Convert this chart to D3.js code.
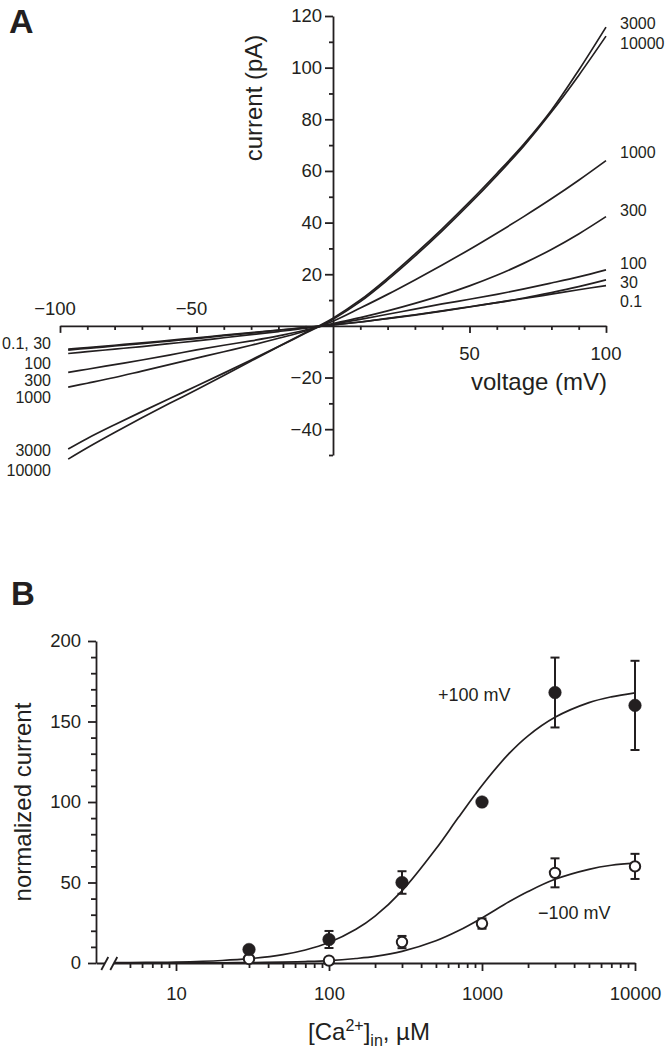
<!DOCTYPE html>
<html>
<head>
<meta charset="utf-8">
<script src="https://cdn.jsdelivr.net/npm/d3@7"></script>
<style>
  html, body { margin: 0; padding: 0; background: #fff; }
  svg { display: block; }
  text { font-family: "Liberation Sans", Arial, Helvetica, sans-serif; fill: #231f20; }
</style>
</head>
<body>
<svg id="chart" width="666" height="1057"></svg>
<script>
// ---------- Panel A data: I-V traces for different [Ca2+]in (µM) ----------
const voltage = [-97,-90,-80,-70,-60,-50,-40,-30,-20,-10,0,10,20,30,40,50,60,70,80,90,100];
const cur_0_1   = [-9.0,-8.4,-7.5,-6.6,-5.6,-4.6,-3.6,-2.6,-1.6,-0.6,0.4,1.5,2.9,4.3,5.8,7.4,9.0,10.6,12.3,14.0,15.6];
const cur_30    = [-9.4,-8.7,-7.8,-6.9,-5.9,-4.9,-3.8,-2.8,-1.7,-0.7,0.4,1.5,2.8,4.2,5.7,7.3,9.0,10.8,12.9,15.2,17.8];
const cur_100   = [-10.7,-10.0,-9.0,-8.0,-6.9,-5.8,-4.6,-3.4,-2.2,-0.9,0.7,2.5,4.5,6.5,8.5,10.3,12.2,14.3,16.6,19.0,21.7];
const cur_300   = [-18.0,-16.8,-15.0,-13.2,-11.3,-9.3,-7.5,-5.8,-3.9,-1.6,0.9,3.2,5.8,8.7,11.9,15.5,19.6,24.3,29.6,35.6,42.3];
const cur_1000  = [-23.7,-22.2,-20.0,-17.5,-15.0,-12.5,-10.0,-7.5,-4.8,-2.0,1.8,6.9,12.2,17.8,23.6,29.6,35.9,42.4,49.2,56.4,64.0];
const cur_3000  = [-47.7,-43.6,-38.3,-33.2,-28.2,-23.3,-18.3,-13.2,-8.0,-2.6,3.0,10.0,18.5,27.8,37.6,48.0,59.0,70.5,83.5,99.0,115.7];
const cur_10000 = [-51.6,-47.2,-41.3,-35.6,-30.1,-24.7,-19.2,-13.6,-8.1,-2.8,2.6,9.4,17.8,27.0,36.8,47.2,58.2,69.8,82.8,97.0,112.2];
const traces = [cur_0_1, cur_30, cur_100, cur_300, cur_1000, cur_3000, cur_10000];

const rightLabels = ["3000","10000","1000","300","100","30","0.1"];
const rightLabelY = [23, 43, 152, 210, 263, 282, 301];
const leftLabels  = ["0.1, 30","100","300","1000","3000","10000"];
const leftLabelY  = [343, 363, 380, 397, 450, 470];

const xTicksA = [-100,-50,50,100];
const yTicksA = [-40,-20,20,40,60,80,100,120];

// ---------- Panel B data: normalized current vs [Ca2+]in ----------
const conc      = [30, 100, 300, 1000, 3000, 10000];
const plus100   = [8.4, 14.6, 50, 100, 168, 160];
const plus100E  = [0, 5.3, 7, 0, 21.7, 27.7];
const minus100  = [2.5, 1.5, 13, 24.5, 56, 60];
const minus100E = [0, 0, 3.8, 3.2, 9, 7.8];

const fitConc  = [4,5,7,10,20,30,50,70,100,150,200,300,500,700,1000,1500,2000,3000,5000,7000,10000];
const fitPlus  = [0.18,0.24,0.38,0.61,1.55,2.66,5.23,8.09,12.7,20.9,29.1,44.8,70.9,90.3,110.3,130,141.1,152.6,161.7,165.3,167.8];
const fitMinus = [0,0.02,0.03,0.06,0.15,0.26,0.55,0.9,1.5,2.8,4.1,7.2,13.8,20,28,38,44.4,52,58.2,60.7,62];

const xTicksB = [10, 100, 1000, 10000];
const yTicksB = [0, 50, 100, 150, 200];

const ink = "#231f20";
const svg = d3.select("#chart");
const minus = s => String(s).replace("-", "\u2212");
const AXW = 1.8;

// ================= Panel A =================
const xA = d3.scaleLinear().domain([-100, 100]).range([60, 606]);
const yA = d3.scaleLinear().domain([-50, 120]).range([455, 16]);

svg.append("text").attr("x", 9).attr("y", 33)
  .style("font-size", "34px").style("font-weight", "bold").text("A");

// x axis (at current = 0)
const gxA = svg.append("g").attr("transform", `translate(0,${yA(0)})`);
gxA.call(d3.axisBottom(xA).tickValues(d3.range(-90, 100, 10).filter(v => v % 50 !== 0))
  .tickSize(4).tickSizeOuter(0).tickFormat(""));
gxA.append("g").call(d3.axisBottom(xA).tickValues(xTicksA).tickSize(7).tickSizeOuter(0).tickFormat(""))
  .select(".domain").remove();
gxA.selectAll("path,line").attr("stroke", ink).attr("stroke-width", AXW);

xTicksA.forEach(v => {
  svg.append("text")
    .attr("x", xA(v) + (v < 0 ? -5 : 0))
    .attr("y", v < 0 ? 315 : 360)
    .attr("text-anchor", "middle")
    .style("font-size", "18.5px")
    .text(minus(v));
});

// y axis (at voltage = 0)
const gyA = svg.append("g").attr("transform", `translate(${xA(0)},0)`);
gyA.call(d3.axisLeft(yA).tickValues(d3.range(-50, 120, 10).filter(v => v % 20 !== 0))
  .tickSize(4).tickSizeOuter(0).tickFormat(""));
gyA.append("g").call(d3.axisLeft(yA).tickValues(yTicksA).tickSize(8).tickPadding(3).tickSizeOuter(0).tickFormat(minus))
  .select(".domain").remove();
gyA.selectAll("path,line").attr("stroke", ink).attr("stroke-width", AXW);
gyA.selectAll("text").attr("fill", ink)
  .style("font-size", "18.5px").style("font-family", "'Liberation Sans', Arial, sans-serif");

svg.append("text")
  .attr("transform", `translate(262,98) rotate(-90)`)
  .attr("text-anchor", "middle").style("font-size", "24px").text("current (pA)");
svg.append("text")
  .attr("x", 607).attr("y", 390).attr("text-anchor", "end")
  .style("font-size", "24px").text("voltage (mV)");

const lineA = d3.line()
  .x((d, i) => xA(voltage[i]))
  .y(d => yA(d))
  .curve(d3.curveCatmullRom.alpha(0.5));

svg.append("g").selectAll("path").data(traces).join("path")
  .attr("d", lineA)
  .attr("fill", "none").attr("stroke", ink).attr("stroke-width", 1.7);

rightLabels.forEach((t, i) => {
  svg.append("text").attr("x", 620).attr("y", rightLabelY[i]).attr("dy", "0.35em")
    .style("font-size", "16px").text(t);
});
leftLabels.forEach((t, i) => {
  svg.append("text").attr("x", 51).attr("y", leftLabelY[i]).attr("dy", "0.35em")
    .attr("text-anchor", "end").style("font-size", "16px").text(t);
});

// ================= Panel B =================
const xB = d3.scaleLog().domain([3, 10000]).range([96, 635]);
const yB = d3.scaleLinear().domain([0, 200]).range([963, 641]);

svg.append("text").attr("x", 11).attr("y", 605)
  .style("font-size", "33px").style("font-weight", "bold").text("B");

const minorB = [];
[1, 10, 100, 1000].forEach(dec => { for (let k = 2; k <= 9; k++) { const v = k * dec; if (v >= 5 && v < 10000) minorB.push(v); } });

const gxB = svg.append("g").attr("transform", `translate(0,${yB(0)})`);
gxB.call(d3.axisBottom(xB).tickValues(minorB).tickSize(5).tickSizeOuter(0).tickFormat(""));
gxB.append("g").call(d3.axisBottom(xB).tickValues(xTicksB).tickSize(8).tickPadding(16).tickSizeOuter(0)
  .tickFormat(d3.format("d"))).select(".domain").remove();
gxB.selectAll("path,line").attr("stroke", ink).attr("stroke-width", AXW);
gxB.selectAll("text").attr("fill", ink)
  .style("font-size", "18.5px").style("font-family", "'Liberation Sans', Arial, sans-serif");

// axis break "//"
const b1 = xB(3.45), b2 = xB(3.95);
svg.append("path")
  .attr("d", `M${b1 - 4},${yB(0) + 7} L${b1 + 3},${yB(0) - 6} L${b2 + 3},${yB(0) - 6} L${b2 - 4},${yB(0) + 7} Z`)
  .attr("fill", "#fff");
[b1, b2].forEach(b => {
  svg.append("line").attr("x1", b - 4).attr("y1", yB(0) + 7).attr("x2", b + 3).attr("y2", yB(0) - 6)
    .attr("stroke", ink).attr("stroke-width", AXW);
});

const gyB = svg.append("g").attr("transform", `translate(${xB(3)},0)`);
gyB.call(d3.axisLeft(yB).tickValues(d3.range(10, 200, 10).filter(v => v % 50 !== 0))
  .tickSize(5).tickSizeOuter(0).tickFormat(""));
gyB.append("g").call(d3.axisLeft(yB).tickValues(yTicksB).tickSize(8).tickPadding(7).tickSizeOuter(0))
  .select(".domain").remove();
gyB.selectAll("path,line").attr("stroke", ink).attr("stroke-width", AXW);
gyB.selectAll("text").attr("fill", ink)
  .style("font-size", "18.5px").style("font-family", "'Liberation Sans', Arial, sans-serif");

svg.append("text")
  .attr("transform", `translate(31,802) rotate(-90)`)
  .attr("text-anchor", "middle").style("font-size", "24px").text("normalized current");

const xt = svg.append("text").attr("x", 369).attr("y", 1040).attr("text-anchor", "middle")
  .style("font-size", "24px");
xt.append("tspan").text("[Ca");
xt.append("tspan").attr("dy", -9).style("font-size", "16px").text("2+");
xt.append("tspan").attr("dy", 9).text("]");
xt.append("tspan").attr("dy", 6).style("font-size", "16px").text("in");
xt.append("tspan").attr("dy", -6).text(", \u00b5M");

// fit curves
const lineB = d3.line()
  .x((d, i) => xB(fitConc[i]))
  .y(d => yB(d))
  .curve(d3.curveCatmullRom.alpha(0.5));
[fitPlus, fitMinus].forEach(f => {
  svg.append("path").attr("d", lineB(f))
    .attr("fill", "none").attr("stroke", ink).attr("stroke-width", 1.7);
});

// error bars and points
function drawSeries(vals, errs, filled) {
  const g = svg.append("g");
  vals.forEach((v, i) => {
    const e = errs[i];
    if (e > 0) {
      const x = xB(conc[i]);
      g.append("line").attr("x1", x).attr("x2", x).attr("y1", yB(v - e)).attr("y2", yB(v + e))
        .attr("stroke", ink).attr("stroke-width", 2);
      [v - e, v + e].forEach(c => {
        g.append("line").attr("x1", x - 4.5).attr("x2", x + 4.5).attr("y1", yB(c)).attr("y2", yB(c))
          .attr("stroke", ink).attr("stroke-width", 2);
      });
    }
  });
  g.selectAll("circle").data(vals).join("circle")
    .attr("cx", (d, i) => xB(conc[i]))
    .attr("cy", d => yB(d))
    .attr("r", filled ? 6.3 : 5.2)
    .attr("fill", filled ? ink : "#fff")
    .attr("stroke", ink).attr("stroke-width", filled ? 0.5 : 2);
}
drawSeries(minus100, minus100E, false);
drawSeries(plus100, plus100E, true);

svg.append("text").attr("x", 438).attr("y", 701).style("font-size", "18px").text("+100 mV");
svg.append("text").attr("x", 538).attr("y", 919).style("font-size", "18px").text("\u2212100 mV");
</script>
</body>
</html>
